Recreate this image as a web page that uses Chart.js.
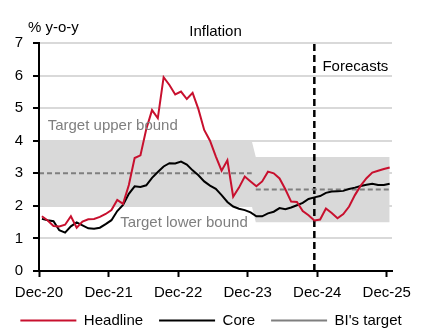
<!DOCTYPE html>
<html>
<head>
<meta charset="utf-8">
<script src="https://cdn.jsdelivr.net/npm/chart.js@4.4.1/dist/chart.umd.min.js"></script>
<style>
  html, body { margin: 0; padding: 0; background: #fff; }
  #wrap { width: 422px; height: 335px; }
</style>
</head>
<body>
<div id="wrap"><canvas id="chart" width="422" height="335"></canvas></div>
<script>
// month index: 0 = Dec-20 ... 60 = Dec-25 (points sit mid-month, ticks at month start)
const headline = [
  1.68, 1.55, 1.38, 1.37, 1.42, 1.68, 1.33, 1.52, 1.59, 1.60, 1.66, 1.75,
  1.87, 2.18, 2.06, 2.64, 3.47, 3.55, 4.35, 4.94, 4.69, 5.95, 5.71, 5.42,
  5.51, 5.28, 5.47, 4.97, 4.33, 4.00, 3.52, 3.08, 3.40, 2.28, 2.56, 2.90,
  2.75, 2.60, 2.75, 3.05, 3.00, 2.84, 2.51, 2.13, 2.12, 1.84, 1.71, 1.55,
  1.58, 1.92, 1.78, 1.62, 1.75, 1.98, 2.33, 2.62, 2.85, 3.02, 3.08, 3.13,
  3.18
];
const core = [
  1.60, 1.56, 1.53, 1.25, 1.18, 1.37, 1.49, 1.40, 1.31, 1.30, 1.33, 1.44,
  1.56, 1.84, 2.03, 2.37, 2.60, 2.58, 2.63, 2.86, 3.04, 3.21, 3.31, 3.30,
  3.36, 3.27, 3.09, 2.94, 2.75, 2.62, 2.52, 2.33, 2.12, 1.98, 1.91, 1.87,
  1.80, 1.68, 1.68, 1.77, 1.82, 1.93, 1.90, 1.95, 2.02, 2.09, 2.21, 2.26,
  2.30, 2.40, 2.44, 2.45, 2.46, 2.52, 2.56, 2.61, 2.65, 2.68, 2.64, 2.64,
  2.68
];

const bandMonths = [-0.5, 36.2, 36.9, 60];
const bandUpper = [4, 4, 3.5, 3.5];
const bandLower = [2, 2, 1.5, 1.5];

const targetMonths = [-0.5, 36.2, 36.5, 36.9, 60];
const targetValues = [3, 3, null, 2.5, 2.5];

const forecastMonth = 47; // Nov-24, last actual
const tickMonths = [-0.5, 11.5, 23.5, 35.5, 47.5, 59.5];
const tickLabels = ['Dec-20', 'Dec-21', 'Dec-22', 'Dec-23', 'Dec-24', 'Dec-25'];

const FONT = "'Liberation Sans', Arial, sans-serif";
const FS = 15;
Chart.defaults.font.family = FONT;
Chart.defaults.font.size = FS;
Chart.defaults.color = '#000';

const pts = (xs, ys) => xs.map((m, i) => ({ x: m, y: ys[i] }));
const series = arr => arr.map((v, i) => ({ x: i, y: v }));

// titles, notes and the date labels under the x axis
const notes = {
    id: 'notes',
    afterDraw(chart) {
        const { ctx, chartArea, scales: { x, y } } = chart;
        ctx.save();
        ctx.font = FS + 'px ' + FONT;
        ctx.textBaseline = 'middle';
        ctx.fillStyle = '#000';
        ctx.textAlign = 'center';
        ctx.fillText('Inflation', (chartArea.left + chartArea.right) / 2, 32);
        tickMonths.forEach((m, i) => {
            ctx.fillText(tickLabels[i], x.getPixelForValue(m), chartArea.bottom + 22);
        });
        ctx.textAlign = 'left';
        ctx.fillText('% y-o-y', 28, 28);
        ctx.fillText('Forecasts', x.getPixelForValue(48.4), y.getPixelForValue(6.27));
        ctx.fillStyle = '#7f7f7f';
        ctx.fillText('Target upper bound', x.getPixelForValue(1), y.getPixelForValue(4.47));
        ctx.fillText('Target lower bound', x.getPixelForValue(13.5), y.getPixelForValue(1.48));
        ctx.restore();
    }
};

new Chart(document.getElementById('chart'), {
    type: 'line',
    data: {
        datasets: [
            {
                label: 'Headline',
                data: series(headline),
                borderColor: '#c8102e',
                backgroundColor: '#c8102e',
                borderWidth: 2,
                pointRadius: 0,
                pointStyle: 'line',
                tension: 0
            },
            {
                label: 'Core',
                data: series(core),
                borderColor: '#000',
                backgroundColor: '#000',
                borderWidth: 2,
                pointRadius: 0,
                pointStyle: 'line',
                tension: 0
            },
            {
                label: "BI's target",
                data: pts(targetMonths, targetValues),
                borderColor: '#7f7f7f',
                backgroundColor: '#7f7f7f',
                borderWidth: 2,
                borderDash: [5, 3],
                pointRadius: 0,
                pointStyle: 'line',
                spanGaps: false
            },
            {
                label: 'forecast',
                data: [{ x: forecastMonth, y: 0 }, { x: forecastMonth, y: 7 }],
                borderColor: '#000',
                borderWidth: 2.5,
                borderDash: [7, 4],
                pointRadius: 0
            },
            {
                label: 'upper',
                data: pts(bandMonths, bandUpper),
                borderWidth: 0,
                pointRadius: 0,
                backgroundColor: '#d9d9d9',
                fill: '+1'
            },
            {
                label: 'lower',
                data: pts(bandMonths, bandLower),
                borderWidth: 0,
                pointRadius: 0,
                fill: false
            }
        ]
    },
    options: {
        responsive: false,
        animation: false,
        layout: { padding: { top: 43, right: 0, left: 0, bottom: -3 } },
        plugins: {
            tooltip: { enabled: false },
            legend: {
                position: 'bottom',
                labels: {
                    usePointStyle: true,
                    pointStyleWidth: 56,
                    padding: 16,
                    filter: item => item.datasetIndex < 3
                }
            }
        },
        scales: {
            x: {
                type: 'linear',
                min: -0.5,
                max: 60.4,
                afterBuildTicks: s => { s.ticks = tickMonths.map(v => ({ value: v })); },
                afterFit: s => { s.height = 26; },
                ticks: { display: false },
                grid: { drawOnChartArea: false, tickLength: 6, tickColor: '#000', tickWidth: 2, color: '#000' },
                border: { color: '#000', width: 2, z: 1 }
            },
            y: {
                min: 0,
                max: 7,
                afterFit: s => { s.width = 39; },
                ticks: { stepSize: 1, padding: 10 },
                grid: { color: '#d9d9d9', lineWidth: 2, tickLength: 6, tickColor: '#000', tickWidth: 2 },
                border: { color: '#000', width: 2, z: 1 }
            },
            // empty right margin so the legend can use the full width
            yRight: {
                position: 'right',
                min: 0,
                max: 7,
                afterFit: s => { s.width = 30; },
                ticks: { display: false },
                grid: { display: false },
                border: { display: false }
            }
        }
    },
    plugins: [notes]
});
</script>
</body>
</html>
